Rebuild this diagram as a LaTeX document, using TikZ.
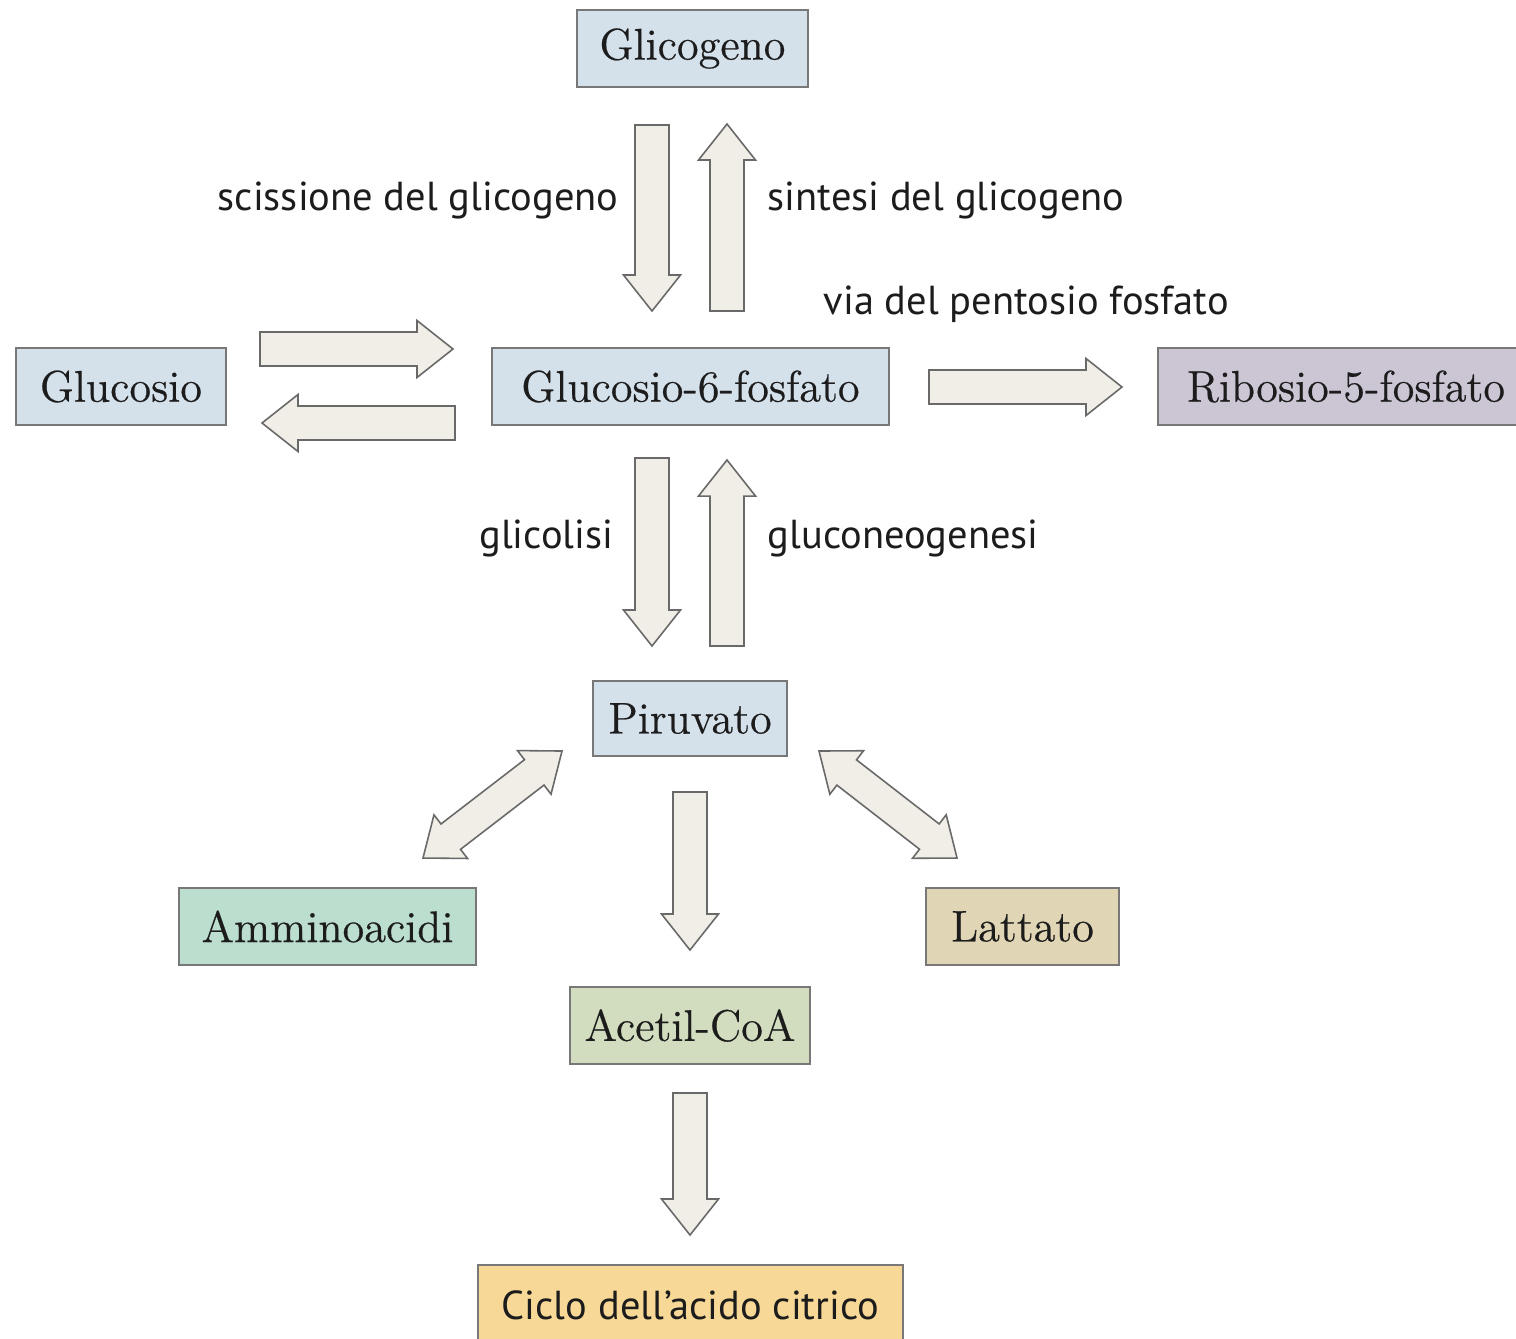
\documentclass[tikz,border=0pt]{standalone}
\usepackage{fontspec}
\newfontfamily\lblfont{PT Sans}
\newfontfamily\boxfont{Latin Modern Roman}[FakeBold=0.5]
\usetikzlibrary{calc}
\definecolor{boxblue}{RGB}{212,224,234}
\definecolor{boxlav}{RGB}{204,198,212}
\definecolor{boxmint}{RGB}{187,222,206}
\definecolor{boxtan}{RGB}{224,213,180}
\definecolor{boxsage}{RGB}{209,221,190}
\definecolor{boxciclo}{RGB}{247,216,150}
\definecolor{boxline}{RGB}{120,120,120}
\definecolor{arrfill}{RGB}{240,238,230}
\definecolor{arrline}{RGB}{105,105,105}
\definecolor{txt}{RGB}{28,28,28}
\newcommand\sarrow[2]{%
  \coordinate (sam) at ($(#2)!0.36cm!(#1)$);
  \draw[arrowbody] ($(#1)!0.17cm!90:(#2)$) -- ($(sam)!0.17cm!-90:(#1)$)
    -- ($(sam)!0.285cm!-90:(#1)$) -- (#2) -- ($(sam)!0.285cm!90:(#1)$)
    -- ($(sam)!0.17cm!90:(#1)$) -- ($(#1)!0.17cm!-90:(#2)$) -- cycle;}
\newcommand\darrow[2]{%
  \coordinate (dma) at ($(#1)!0.35cm!(#2)$);
  \coordinate (dmb) at ($(#2)!0.35cm!(#1)$);
  \draw[arrowbody] (#1) -- ($(dma)!0.275cm!90:(#2)$) -- ($(dma)!0.16cm!90:(#2)$)
    -- ($(dmb)!0.16cm!-90:(#1)$) -- ($(dmb)!0.275cm!-90:(#1)$) -- (#2)
    -- ($(dmb)!0.275cm!90:(#1)$) -- ($(dmb)!0.16cm!90:(#1)$)
    -- ($(dma)!0.16cm!-90:(#2)$) -- ($(dma)!0.275cm!-90:(#2)$) -- cycle;}
\begin{document}
\begin{tikzpicture}[x=0.01cm,y=-0.01cm,
  box/.style={draw=boxline, line width=0.5pt, inner sep=0pt, text=txt,
    font=\boxfont\fontsize{12.6}{14}\selectfont},
  lbl/.style={font=\lblfont\fontsize{11.5}{14}\selectfont, text=txt, inner sep=0pt},
  arrowbody/.style={draw=arrline, fill=arrfill, line width=0.45pt, line join=miter}]
\useasboundingbox (0,0) rectangle (1516,1338);
\clip (0,0) rectangle (1516,1338);
\fill[white] (0,0) rectangle (1516,1338);

% boxes
\node[box, fill=boxblue, minimum width=2.31cm, minimum height=0.77cm] (glyc) at (692.5,48.5) {Glicogeno};
\node[box, fill=boxblue, minimum width=2.10cm, minimum height=0.77cm] (gluc) at (121,386.5) {Glucosio};
\node[box, fill=boxblue, minimum width=3.97cm, minimum height=0.77cm] (g6p) at (690.5,386.5) {Glucosio-6-fosfato};
\node[box, fill=boxlav, minimum width=3.76cm, minimum height=0.77cm] (rib) at (1346,386.5) {Ribosio-5-fosfato};
\node[box, fill=boxblue, minimum width=1.94cm, minimum height=0.75cm] (piru) at (690,718.5) {Piruvato};
\node[box, fill=boxmint, minimum width=2.97cm, minimum height=0.77cm] (ammi) at (327.5,926.5) {Amminoacidi};
\node[box, fill=boxtan, minimum width=1.93cm, minimum height=0.77cm] (latt) at (1022.5,926.5) {Lattato};
\node[box, fill=boxsage, minimum width=2.40cm, minimum height=0.77cm] (acet) at (690,1025.5) {Acetil-CoA};
\node[box, fill=boxciclo, minimum width=4.25cm, minimum height=0.80cm,
  font=\lblfont\fontsize{11.5}{14}\selectfont] (ciclo) at (690.5,1305) {Ciclo dell’acido citrico};

% arrow end points
\coordinate (a1s) at (652,125);  \coordinate (a1e) at (652,311);
\coordinate (a2s) at (727,311);  \coordinate (a2e) at (727,124);
\coordinate (a3s) at (652,458);  \coordinate (a3e) at (652,646);
\coordinate (a4s) at (727,646);  \coordinate (a4e) at (727,460);
\coordinate (a5s) at (260,349);  \coordinate (a5e) at (453,349);
\coordinate (a6s) at (455,423);  \coordinate (a6e) at (262,423);
\coordinate (a7s) at (929,387);  \coordinate (a7e) at (1122,387);
\coordinate (a8s) at (690,792);  \coordinate (a8e) at (690,950);
\coordinate (a9s) at (690,1093); \coordinate (a9e) at (690,1235);
\coordinate (d1a) at (423,858);  \coordinate (d1b) at (562,751);
\coordinate (d2a) at (819,751);  \coordinate (d2b) at (957,858);

\sarrow{a1s}{a1e}
\sarrow{a2s}{a2e}
\sarrow{a3s}{a3e}
\sarrow{a4s}{a4e}
\sarrow{a5s}{a5e}
\sarrow{a6s}{a6e}
\sarrow{a7s}{a7e}
\sarrow{a8s}{a8e}
\sarrow{a9s}{a9e}
\darrow{d1a}{d1b}
\darrow{d2a}{d2b}

% labels
\node[lbl, anchor=east] (l1) at (619,200) {scissione del glicogeno};
\node[lbl, anchor=west] (l2) at (767,200) {sintesi del glicogeno};
\node[lbl, anchor=west] (l3) at (823,304) {via del pentosio fosfato};
\node[lbl, anchor=east] (l4) at (614,538) {glicolisi};
\node[lbl, anchor=west] (l5) at (767,538) {gluconeogenesi};
\end{tikzpicture}
\end{document}
